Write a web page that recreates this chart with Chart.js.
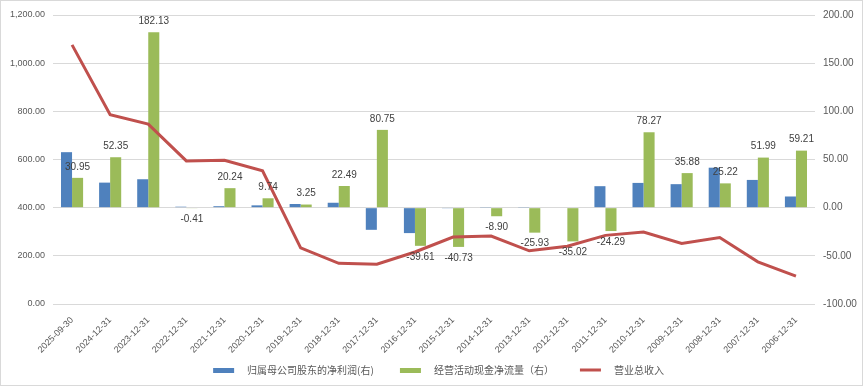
<!DOCTYPE html>
<html>
<head>
<meta charset="utf-8">
<script src="https://cdn.jsdelivr.net/npm/chart.js@4/dist/chart.umd.min.js"></script>
<style>
  html, body { margin: 0; padding: 0; background: #fff; }
  .wrap {
    width: 863px; height: 386px; box-sizing: border-box;
    border: 1px solid #d9d9d9; position: relative;
  }
</style>
</head>
<body>
<div class="wrap"><canvas id="c" width="861" height="384"></canvas></div>
<script>
const categories = ['2025-09-30', '2024-12-31', '2023-12-31', '2022-12-31', '2021-12-31', '2020-12-31', '2019-12-31', '2018-12-31', '2017-12-31', '2016-12-31', '2015-12-31', '2014-12-31', '2013-12-31', '2012-12-31', '2011-12-31', '2010-12-31', '2009-12-31', '2008-12-31', '2007-12-31', '2006-12-31'];
const netProfit = [57.6, 26.0, 29.5, 1.0, 1.5, 2.4, 3.8, 5.1, -23.0, -26.4, -0.3, 0.3, 0.3, 0.5, 22.3, 25.7, 24.4, 41.5, 28.8, 11.6];
const cashFlow = [30.95, 52.35, 182.13, -0.41, 20.24, 9.74, 3.25, 22.49, 80.75, -39.61, -40.73, -8.90, -25.93, -35.02, -24.29, 78.27, 35.88, 25.22, 51.99, 59.21];
const revenue = [1076, 786, 747, 594, 597, 553, 233, 169, 165, 216, 278, 282, 221, 240, 285, 299, 251, 276, 175, 116];

const fmt = v => Number(v).toLocaleString('en-US', { minimumFractionDigits: 2, maximumFractionDigits: 2 });

// legend swatch with some empty room on both sides of the coloured box
function swatch(color, h) {
  const c = document.createElement('canvas');
  c.width = 43; c.height = 5;
  const g = c.getContext('2d');
  g.fillStyle = color;
  g.fillRect(14, (5 - h) / 2, 21, h);
  return c;
}

// value labels on the green bars
const barLabels = {
  id: 'barLabels',
  afterDatasetsDraw(chart) {
    const ctx = chart.ctx;
    const meta = chart.getDatasetMeta(1);
    ctx.save();
    ctx.font = '10px "Liberation Sans", Arial, sans-serif';
    ctx.fillStyle = '#404040';
    ctx.textAlign = 'center';
    ctx.textBaseline = 'middle';
    meta.data.forEach((bar, i) => {
      const v = cashFlow[i];
      const y = v >= 0 ? bar.y - 11 : bar.y + 11;
      ctx.fillText(v.toFixed(2), bar.x, y);
    });
    ctx.restore();
  }
};

new Chart(document.getElementById('c'), {
  type: 'bar',
  data: {
    labels: categories,
    datasets: [
      {
        label: '归属母公司股东的净利润(右)',
        data: netProfit,
        backgroundColor: '#4F81BD',
        pointStyle: swatch('#4F81BD', 5),
        yAxisID: 'y1',
        order: 1,
        categoryPercentage: 0.58,
        barPercentage: 1
      },
      {
        label: '经营活动现金净流量（右）',
        data: cashFlow,
        backgroundColor: '#9BBB59',
        pointStyle: swatch('#9BBB59', 5),
        yAxisID: 'y1',
        order: 1,
        categoryPercentage: 0.58,
        barPercentage: 1
      },
      {
        type: 'line',
        label: '营业总收入',
        data: revenue,
        borderColor: '#C0504D',
        backgroundColor: '#C0504D',
        pointStyle: swatch('#C0504D', 3),
        borderWidth: 3,
        pointRadius: 0,
        tension: 0,
        yAxisID: 'y',
        order: 0
      }
    ]
  },
  options: {
    responsive: false,
    animation: false,
    layout: { padding: { top: 12, left: 0, right: 0, bottom: 0 } },
    scales: {
      x: {
        grid: { display: false },
        border: { display: false },
        ticks: {
          color: '#595959',
          font: { size: 9, family: '"Liberation Sans", Arial, sans-serif' },
          minRotation: 45,
          maxRotation: 45,
          autoSkip: false
        },
        afterFit(scale) { scale.height = 49; }
      },
      y: {
        position: 'left',
        min: 0,
        max: 1200,
        ticks: {
          stepSize: 200,
          color: '#595959',
          padding: 8,
          font: { size: 9, family: '"Liberation Sans", Arial, sans-serif' },
          callback: v => fmt(v)
        },
        grid: { color: '#d9d9d9', lineWidth: 1, drawTicks: false },
        border: { display: false },
        afterFit(scale) { scale.width = 52; }
      },
      y1: {
        position: 'right',
        min: -100,
        max: 200,
        ticks: {
          stepSize: 50,
          color: '#595959',
          padding: 8,
          font: { size: 10, family: '"Liberation Sans", Arial, sans-serif' },
          callback: v => fmt(v)
        },
        grid: { drawOnChartArea: false, drawTicks: false },
        border: { display: false },
        afterFit(scale) { scale.width = 47; }
      }
    },
    plugins: {
      legend: {
        position: 'bottom',
        labels: {
          color: '#595959',
          usePointStyle: true,
          pointStyleWidth: 43,
          boxHeight: 5,
          padding: 12,
          sort: (a, b) => a.datasetIndex - b.datasetIndex,
          font: { size: 10, family: '"Noto Sans CJK SC", sans-serif' }
        }
      },
      tooltip: { enabled: false }
    }
  },
  plugins: [barLabels]
});
</script>
</body>
</html>
